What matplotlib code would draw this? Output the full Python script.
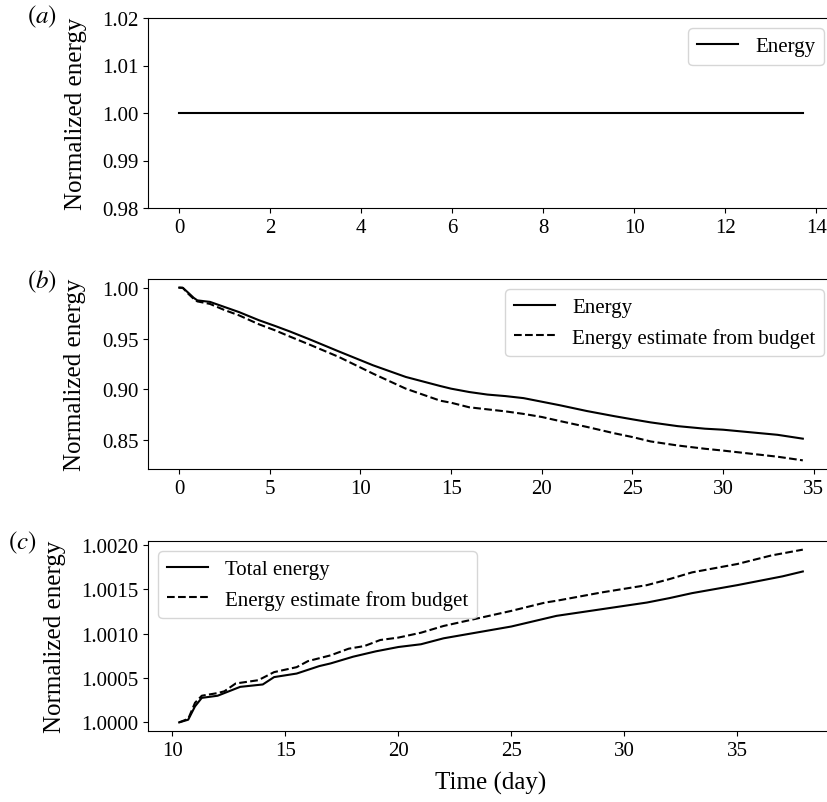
import matplotlib
matplotlib.use("Agg")
import matplotlib.pyplot as plt
from matplotlib.ticker import FormatStrFormatter

plt.rcParams['font.family'] = ['Liberation Serif', 'DejaVu Serif']
plt.rcParams['mathtext.fontset'] = 'stix'

# panel (a): energy, constant
t_a = [0.0, 3.0, 6.0, 9.0, 12.0, 13.7]
e_a = [1.0, 1.0, 1.0, 1.0, 1.0, 1.0]

# panel (b): energy and budget estimate
t_b = [0.0, 0.2, 0.5, 0.8, 1.0, 1.7, 2.5, 3.3, 4.4, 5.3, 6.1, 7.2, 8.8, 10.7,
       12.5, 14.4, 15.0, 16.0, 17.0, 18.0, 19.0, 20.0, 21.0, 22.5, 24.0, 25.0,
       26.0, 27.5, 29.0, 30.0, 31.5, 33.0, 34.4]
e_b = [1.0, 0.9998, 0.995, 0.990, 0.9875, 0.986, 0.981, 0.976, 0.968, 0.9623,
       0.957, 0.9492, 0.9374, 0.9237, 0.9123, 0.9034, 0.9008, 0.8975, 0.8950,
       0.8935, 0.8915, 0.888, 0.8845, 0.8788, 0.8738, 0.8707, 0.8677, 0.864,
       0.8615, 0.8605, 0.858, 0.8555, 0.8517]
est_b = [1.0, 0.9998, 0.994, 0.989, 0.9865, 0.984, 0.978, 0.9728, 0.964, 0.958,
         0.952, 0.944, 0.932, 0.9155, 0.9008, 0.889, 0.887, 0.8825, 0.8805,
         0.8785, 0.876, 0.873, 0.869, 0.8632, 0.857, 0.8533, 0.849, 0.845,
         0.8418, 0.840, 0.837, 0.834, 0.8304]

# panel (c): total energy and budget estimate
t_c1 = [10.3, 10.7, 11.0, 11.3, 12.0, 12.5, 13.0, 14.0, 14.5, 15.5, 16.5, 17.0,
        18.0, 19.0, 20.0, 21.0, 22.0, 25.0, 27.0, 29.0, 31.0, 32.0, 33.0, 35.0,
        37.0, 37.9]
e_c = [1.0, 1.00003, 1.00018, 1.000276, 1.0003, 1.00035, 1.0004, 1.000427,
       1.00051, 1.00055, 1.000634, 1.000664, 1.00074, 1.0008, 1.000849, 1.00088,
       1.000947, 1.00108, 1.0012, 1.001275, 1.00135, 1.0014, 1.001456, 1.001546,
       1.001645, 1.0017]
t_c2 = [10.3, 10.7, 11.0, 11.3, 12.0, 12.3, 12.8, 13.8, 14.5, 15.5, 16.0, 17.0,
        17.8, 18.5, 19.2, 20.0, 21.0, 22.0, 25.0, 26.5, 27.0, 29.0, 31.0, 32.0,
        33.0, 35.0, 36.5, 37.9]
est_c = [1.0, 1.00004, 1.00022, 1.0003, 1.00033, 1.00035, 1.000438, 1.000475,
         1.000566, 1.000622, 1.00069, 1.000755, 1.00083, 1.00086, 1.000928,
         1.000955, 1.00101, 1.001086, 1.001256, 1.00135, 1.00137, 1.001464,
         1.001546, 1.001614, 1.00169, 1.001784, 1.00188, 1.001946]

W, H = 827, 803
fig = plt.figure(figsize=(W / 100, H / 100), dpi=100)

left = 148 / W
width = (834 - 148) / W

def axes_at(top_px, bot_px):
    return fig.add_axes([left, 1 - bot_px / H, width, (bot_px - top_px) / H])

lw = 1.5
fs_tick = 15
fs_lab = 18

# (a)
ax1 = axes_at(19, 209)
ax1.plot(t_a, e_a, 'k-', lw=lw, label='Energy')
ax1.set_ylim(0.98, 1.02)
ax1.set_yticks([0.98, 0.99, 1.00, 1.01, 1.02])
ax1.set_xticks(range(0, 15, 2))
ax1.yaxis.set_major_formatter(FormatStrFormatter('%.2f'))
ax1.legend(loc='upper right', fontsize=fs_tick)

# (b)
ax2 = axes_at(280, 470)
ax2.plot(t_b, e_b, 'k-', lw=lw, label='Energy')
ax2.plot(t_b, est_b, 'k--', lw=lw, label='Energy estimate from budget')
ax2.set_yticks([0.85, 0.90, 0.95, 1.00])
ax2.set_xticks(range(0, 36, 5))
ax2.yaxis.set_major_formatter(FormatStrFormatter('%.2f'))
ax2.legend(loc='upper right', fontsize=fs_tick)

# (c)
ax3 = axes_at(542, 732)
ax3.plot(t_c1, e_c, 'k-', lw=lw, label='Total energy')
ax3.plot(t_c2, est_c, 'k--', lw=lw, label='Energy estimate from budget')
ax3.set_yticks([1.0, 1.0005, 1.001, 1.0015, 1.002])
ax3.set_xticks(range(10, 36, 5))
ax3.yaxis.set_major_formatter(FormatStrFormatter('%.4f'))
ax3.legend(loc='upper left', fontsize=fs_tick)
ax3.set_xlabel('Time (day)', fontsize=fs_lab, labelpad=8)

for ax in (ax1, ax2, ax3):
    ax.tick_params(labelsize=fs_tick)
    ax.set_ylabel('Normalized energy', fontsize=fs_lab, labelpad=11)

for lab, x, y in (('a', 27, 17), ('b', 27, 282), ('c', 8, 543)):
    fig.text(x / W, 1 - y / H, f'$(\\mathit{{{lab}}})$', fontsize=fs_lab,
             ha='left', va='center')

fig.savefig('out.png', dpi=100)
